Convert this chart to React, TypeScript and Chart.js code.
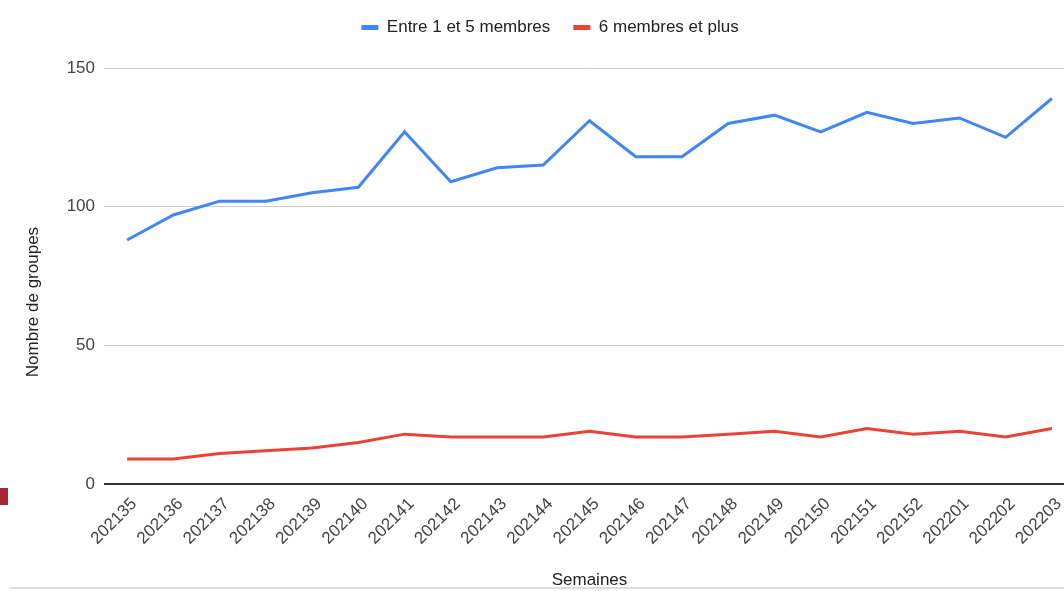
import React, { useEffect, useRef } from "react";
import { Chart, registerables } from "chart.js";

Chart.register(...registerables);

const weeks = [
  "202135", "202136", "202137", "202138", "202139", "202140", "202141",
  "202142", "202143", "202144", "202145", "202146", "202147", "202148",
  "202149", "202150", "202151", "202152", "202201", "202202", "202203",
];
const small = [88, 97, 102, 102, 105, 107, 127, 109, 114, 115, 131, 118, 118, 130, 133, 127, 134, 130, 132, 125, 139];
const large = [9, 9, 11, 12, 13, 15, 18, 17, 17, 17, 19, 17, 17, 18, 19, 17, 20, 18, 19, 17, 20];
const seriesNames = ["Entre 1 et 5 membres", "6 membres et plus"];
const yTicks = [0, 50, 100, 150];
const yTitle = "Nombre de groupes";
const xTitle = "Semaines";

const FONT = "Arial, 'Liberation Sans', sans-serif";
const FS = 17;

const yTitlePlugin = {
  id: "yTitlePlugin",
  afterDraw(chart: any) {
    const { ctx, chartArea } = chart;
    ctx.save();
    ctx.translate(33, (chartArea.top + chartArea.bottom) / 2 + 26);
    ctx.rotate(-Math.PI / 2);
    ctx.font = `${FS}px ${FONT}`;
    ctx.fillStyle = "#222222";
    ctx.textAlign = "center";
    ctx.textBaseline = "middle";
    ctx.fillText(yTitle, 0, 0);
    ctx.restore();
  },
};

const legendSpacePlugin = {
  id: "legendSpacePlugin",
  beforeInit(chart: any) {
    const legend = chart.legend;
    if (!legend) return;
    const orig = legend.fit;
    legend.fit = function () {
      orig.call(this);
      this.height += 22;
    };
  },
};

export default function App() {
  const ref = useRef<HTMLCanvasElement>(null);

  useEffect(() => {
    if (!ref.current) return;
    const chart = new Chart(ref.current, {
      type: "line",
      data: {
        labels: weeks,
        datasets: [
          {
            label: seriesNames[0],
            data: small,
            borderColor: "#4285F4",
            backgroundColor: "#4285F4",
            borderWidth: 3,
            pointRadius: 0,
            tension: 0,
          },
          {
            label: seriesNames[1],
            data: large,
            borderColor: "#EA4335",
            backgroundColor: "#EA4335",
            borderWidth: 3,
            pointRadius: 0,
            tension: 0,
          },
        ],
      },
      options: {
        responsive: false,
        animation: false,
        layout: { padding: { top: -4, right: 25, bottom: 0, left: 25 } },
        plugins: {
          legend: {
            position: "top",
            labels: {
              boxWidth: 17,
              boxHeight: 5,
              padding: 23,
              color: "#222222",
              font: { family: FONT, size: FS },
              generateLabels: (c: any) =>
                Chart.defaults.plugins.legend.labels
                  .generateLabels(c)
                  .map((l: any) => ({ ...l, lineWidth: 0 })),
            },
          },
          tooltip: { enabled: false },
        },
        scales: {
          x: {
            offset: true,
            grid: { display: false },
            border: { display: false },
            ticks: {
              minRotation: 45,
              maxRotation: 45,
              autoSkip: false,
              padding: 2,
              labelOffset: 7,
              color: "#444444",
              font: { family: FONT, size: FS },
            },
            title: {
              display: true,
              text: xTitle,
              color: "#222222",
              font: { family: FONT, size: FS },
              padding: { top: 20, bottom: 0 },
            },
          },
          y: {
            min: 0,
            max: 150,
            afterFit: (scale: any) => {
              scale.width = 79;
            },
            afterBuildTicks: (scale: any) => {
              scale.ticks = yTicks.map((v) => ({ value: v }));
            },
            border: { display: false },
            grid: {
              drawTicks: false,
              color: (ctx: any) => (ctx.tick && ctx.tick.value === 0 ? "#333333" : "#cccccc"),
              lineWidth: (ctx: any) => (ctx.tick && ctx.tick.value === 0 ? 2 : 1),
            },
            ticks: {
              padding: 9,
              color: "#444444",
              font: { family: FONT, size: FS },
            },
          },
        },
      },
      plugins: [yTitlePlugin, legendSpacePlugin],
    });
    return () => chart.destroy();
  }, []);

  return (
    <div style={{ position: "absolute", left: 0, top: 0, width: 1064, height: 591, overflow: "hidden", background: "#fff" }}>
      <canvas ref={ref} width={1100} height={591} style={{ display: "block" }} />
      <div style={{ position: "absolute", left: 0, top: 488, width: 8, height: 17, background: "#a52834" }} />
      <div style={{ position: "absolute", left: 10, top: 587, width: 1054, height: 2, background: "#dddddd" }} />
    </div>
  );
}
